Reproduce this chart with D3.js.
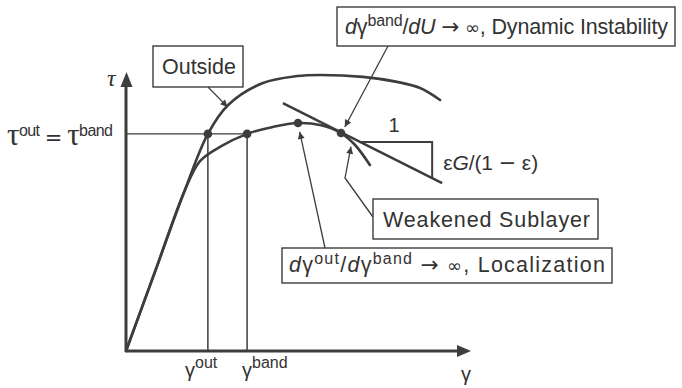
<!DOCTYPE html>
<html>
<head>
<meta charset="utf-8">
<script src="https://cdn.jsdelivr.net/npm/d3@7"></script>
<style>
  html, body { margin: 0; padding: 0; background: #fff; }
  svg { display: block; }
  text { font-family: "Liberation Sans", Arial, Helvetica, sans-serif; fill: #333; }
  .serif { font-family: "Liberation Serif", "Times New Roman", serif; }
  .sym { font-family: "DejaVu Sans", sans-serif; }
</style>
</head>
<body>
<svg id="chart" width="682" height="388"></svg>
<script>
// Stress–strain curves (γ, τ) in arbitrary units
const outsideCurve = [[0, 0], [0.84, 2.84], [1.69, 5.72], [2.38, 7.81], [2.97, 8.85], [3.98, 9.64],
  [4.97, 9.89], [5.64, 9.93], [6.89, 9.86], [7.88, 9.68], [8.55, 9.46], [9.13, 9.03]];
const bandCurve = [[0, 0], [0.84, 2.84], [1.69, 5.72], [2.15, 6.83], [2.73, 7.34], [3.52, 7.81],
  [4.27, 8.06], [5.00, 8.20], [5.64, 8.13], [6.25, 7.84], [6.66, 7.41], [7.09, 6.69]];

// Special states
const gammaOut = 2.38;
const gammaBand = 3.52;
const tauEqual = 7.81;
const localizationPoint = [5.00, 8.20];
const instabilityPoint = [6.25, 7.84];

// Tangent of the weakened sublayer and its slope triangle
const tangentLine = [[4.56, 8.92], [9.19, 6.04]];
const slopeTriangle = [[6.81, 7.52], [8.90, 7.52], [8.90, 6.22]];

// Axis extents
const gammaMax = 10;
const tauMax = 10;

const ink = "#3d3d3d";
const svg = d3.select("#chart");

const x = d3.scaleLinear().domain([0, gammaMax]).range([126, 470]);
const y = d3.scaleLinear().domain([0, tauMax]).range([351, 73]);

const line = d3.line().x(d => x(d[0])).y(d => y(d[1]));
const smooth = d3.line().x(d => x(d[0])).y(d => y(d[1])).curve(d3.curveCatmullRom.alpha(0.5));

// Arrow marker for annotation leaders
svg.append("defs").append("marker")
  .attr("id", "tip").attr("viewBox", "0 0 10 10")
  .attr("refX", 10).attr("refY", 5)
  .attr("markerWidth", 9).attr("markerHeight", 7)
  .attr("markerUnits", "userSpaceOnUse")
  .attr("orient", "auto")
  .append("path").attr("d", "M0,0 L10,5 L0,10 Z").attr("fill", ink);

// Reference lines for γ_out, γ_band and τ_out = τ_band
svg.append("path")
  .attr("d", line([[0, tauEqual], [gammaBand, tauEqual]]))
  .attr("stroke", ink).attr("stroke-width", 1.3).attr("fill", "none");
[gammaOut, gammaBand].forEach(g => {
  svg.append("path")
    .attr("d", line([[g, 0], [g, tauEqual]]))
    .attr("stroke", ink).attr("stroke-width", 1.5).attr("fill", "none");
});

// Axes with arrowheads
svg.append("path").attr("d", line([[0, 0], [gammaMax - 0.3, 0]]))
  .attr("stroke", ink).attr("stroke-width", 3).attr("fill", "none");
svg.append("path").attr("d", line([[0, 0], [0, tauMax - 0.35]]))
  .attr("stroke", ink).attr("stroke-width", 3).attr("fill", "none");
{
  const tx = x(gammaMax) + 1, ty = y(0);
  svg.append("path").attr("d", `M${tx},${ty} L${tx - 14},${ty - 6} L${tx - 14},${ty + 6} Z`).attr("fill", ink);
  const ux = x(0) + 0.5, uy = y(tauMax) - 1;
  svg.append("path").attr("d", `M${ux},${uy} L${ux - 6},${uy + 15} L${ux + 6},${uy + 15} Z`).attr("fill", ink);
}

// Curves
svg.append("path").attr("d", smooth(outsideCurve))
  .attr("stroke", ink).attr("stroke-width", 2.6).attr("fill", "none").attr("stroke-linecap", "round");
svg.append("path").attr("d", smooth(bandCurve))
  .attr("stroke", ink).attr("stroke-width", 2.6).attr("fill", "none").attr("stroke-linecap", "round");

// Tangent and slope triangle
svg.append("path").attr("d", line(tangentLine))
  .attr("stroke", ink).attr("stroke-width", 2.5).attr("fill", "none");
svg.append("path").attr("d", line(slopeTriangle))
  .attr("stroke", ink).attr("stroke-width", 2).attr("fill", "none");

// Marked states
[[gammaOut, tauEqual], [gammaBand, tauEqual], localizationPoint, instabilityPoint].forEach(p => {
  svg.append("circle").attr("cx", x(p[0])).attr("cy", y(p[1])).attr("r", 4.3).attr("fill", ink);
});

// Write a run of tspans (italics, symbols and superscripts) into a text element
function richText(sel, parts, supSize, supRise) {
  let raised = false;
  parts.forEach(p => {
    const ts = sel.append("tspan").text(p.t);
    if (p.i) ts.attr("font-style", "italic");
    if (p.serif) ts.attr("class", "serif");
    if (p.sym) ts.attr("class", "sym");
    if (p.size) ts.attr("font-size", p.size);
    if (p.sup) {
      ts.attr("font-size", supSize);
      if (!raised) ts.attr("dy", -supRise);
      raised = true;
    } else if (raised) {
      ts.attr("dy", supRise);
      raised = false;
    }
  });
}

// Spread a text's glyphs so that it spans a given width
function fitWidth(sel, width) {
  const node = sel.node();
  const n = node.getNumberOfChars();
  const natural = node.getComputedTextLength();
  if (n > 1) sel.attr("letter-spacing", (width - natural) / (n - 1));
}

const arrowInf = [{ t: " " }, { t: "→", sym: 1 }, { t: " " }, { t: "∞", sym: 1, size: 18 }];

// Annotation boxes with leaders (box geometry in pixels, targets in data units)
const notes = [
  { box: [153, 46, 90, 41], base: 74, textX: 162, textEnd: 236, target: [2.95, 8.78], path: [[208, 87]],
    parts: [{ t: "Outside" }] },
  { box: [337, 7, 338, 39], base: 34, textX: 345, textEnd: 668, target: [6.36, 8.06], path: [[388, 46]],
    parts: [{ t: "d", i: 1 }, { t: "γ" }, { t: "band", sup: 1 }, { t: "/" }, { t: "dU", i: 1 }]
      .concat(arrowInf, [{ t: ", Dynamic Instability" }]) },
  { box: [373, 199, 225, 40], base: 227, textX: 383, textEnd: 590, target: [6.54, 7.35], path: [[373, 217], [345, 178]],
    parts: [{ t: "Weakened Sublayer" }] },
  { box: [282, 248, 330, 35], base: 272, textX: 289, textEnd: 605, target: [5.05, 7.88], path: [[325, 248]],
    parts: [{ t: "d", i: 1 }, { t: "γ" }, { t: "out", sup: 1 }, { t: "/" }, { t: "d", i: 1 }, { t: "γ" },
      { t: "band", sup: 1 }].concat(arrowInf, [{ t: ", Localization" }]) }
];

notes.forEach(n => {
  const [bx, by, bw, bh] = n.box;
  svg.append("rect").attr("x", bx).attr("y", by).attr("width", bw).attr("height", bh)
    .attr("fill", "#fff").attr("stroke", ink).attr("stroke-width", 1.4);
  const t = svg.append("text").attr("x", n.textX).attr("y", n.base).attr("font-size", 21.5);
  richText(t, n.parts, 16, 8);
  fitWidth(t, n.textEnd - n.textX);
  const pts = n.path.concat([[x(n.target[0]), y(n.target[1])]]);
  svg.append("path").attr("d", d3.line()(pts))
    .attr("stroke", ink).attr("stroke-width", 1.3).attr("fill", "none")
    .attr("marker-end", "url(#tip)");
});

// Slope labels
svg.append("text").attr("x", 394).attr("y", 132).attr("font-size", 20)
  .attr("text-anchor", "middle").text("1");
{
  const t = svg.append("text").attr("x", x(8.90) + 11).attr("y", 170).attr("font-size", 21);
  richText(t, [{ t: "ε" }, { t: "G", i: 1 }, { t: "/(1 " }, { t: "−", sym: 1 }, { t: " ε)" }], 16, 8);
  fitWidth(t, 95);
}

// Axis labels
svg.append("text").attr("class", "serif").attr("x", 107).attr("y", 86)
  .attr("font-size", 24).attr("font-style", "italic").text("τ");
{
  const t = svg.append("text").attr("x", 7).attr("y", 145).attr("font-size", 21);
  richText(t, [{ t: "τ", serif: 1, size: 31 }, { t: "out", sup: 1 }, { t: " " }, { t: "=", sym: 1 }, { t: " " },
    { t: "τ", serif: 1, size: 31 }, { t: "band", sup: 1 }], 16, 9);
  fitWidth(t, 106);
}
const gammaLabels = [[gammaOut, "out", 185], [gammaBand, "band", 242]];
gammaLabels.forEach(([g, s, left]) => {
  const t = svg.append("text").attr("x", left).attr("y", 377).attr("font-size", 20);
  richText(t, [{ t: "γ" }, { t: s, sup: 1 }], 16, 9);
});
svg.append("text").attr("x", x(gammaMax) - 9).attr("y", 381).attr("font-size", 20).text("γ");
</script>
</body>
</html>
